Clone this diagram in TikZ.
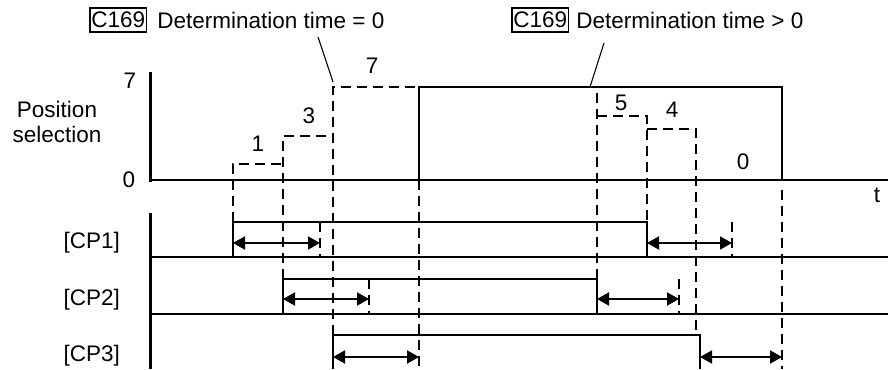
\documentclass[tikz,border=0pt]{standalone}
\usepackage{fontspec}
\setmainfont{Liberation Sans}
\usetikzlibrary{arrows.meta, positioning}

\begin{document}
\begin{tikzpicture}[
  x=1pt, y=-1pt,
  >={Triangle[length=12pt,width=13pt]},
  line width=2pt,
  axis/.style  = {line width=3pt},
  guide/.style = {line width=2.2pt, dash pattern=on 10pt off 6pt},
  lbl/.style   = {font=\fontsize{22.5}{25}\selectfont, inner sep=0pt},
  tag/.style   = {draw, line width=1.6pt, inner xsep=1.5pt, inner ysep=4pt,
                  font=\fontsize{22.5}{25}\selectfont},
  pointer/.style = {line width=1.1pt},
]
  \useasboundingbox (0,0) rectangle (890,369);

  % labels on the left
  \node[lbl, align=center] (possel) at (57,122) {Position\\selection};
  \node[lbl] (ysev)  at (130,81)  {7};
  \node[lbl] (yzero) at (129,180) {0};
  \node[lbl, anchor=east] (cpa) at (121,243) {[CP1]};
  \node[lbl, anchor=east] (cpb) at (121,300) {[CP2]};
  \node[lbl, anchor=east] (cpc) at (121,356) {[CP3]};
  \node[lbl] (tlbl) at (877,195) {t};

  % heading notes
  \node[tag, anchor=west]  (cza)  at (89,20)  {C169};
  \node[lbl, right=9pt of cza] (dza) {Determination time = 0};
  \node[tag, anchor=west]  (czb)  at (511,20) {C169};
  \node[lbl, right=6pt of czb] (dzb) {Determination time > 0};
  \coordinate (qa) at (318,37);  \coordinate (pa) at (333,82);
  \coordinate (qb) at (604,43);  \coordinate (pb) at (590,87);
  \draw[pointer] (qa) -- (pa);
  \draw[pointer] (qb) -- (pb);

  % step values
  \node[lbl] (vone)   at (258,144) {1};
  \node[lbl] (vthree) at (309,116) {3};
  \node[lbl] (vseven) at (372,66)  {7};
  \node[lbl] (vfive)  at (621,103) {5};
  \node[lbl] (vfour)  at (672,110) {4};
  \node[lbl] (vzero)  at (743,162) {0};

  % axes and base lines
  \draw[axis] (150,72) -- (150,181.5);
  \draw[axis] (150,213) -- (150,369);
  \draw (150,180) -- (888,180);
  \draw (150,257) -- (888,257);
  \draw (150,314) -- (888,314);

  % position selection
  \draw (419,180) -- (419,87) -- (782,87) -- (782,180);
  \draw[guide] (233,222) -- (233,164) -- (283,164);
  \draw[guide] (283,279) -- (283,136) -- (333,136);
  \draw[guide] (333,335) -- (333,87) -- (419,87);
  \draw[guide] (597,279) -- (597,87);
  \draw[guide] (597,116) -- (647,116) -- (647,222);
  \draw[guide] (647,129) -- (696,129) -- (696,335);
  \draw[guide] (419,180) -- (419,369);
  \draw[guide] (782,190) -- (782,369);

  % CP signals
  \draw (233,257) -- (233,222) -- (647,222) -- (647,257);
  \draw (283,314) -- (283,279) -- (597,279) -- (597,314);
  \draw (333,369) -- (333,335) -- (700,335) -- (700,369);

  % determination time marks
  \draw[guide] (320,222) -- (320,257);
  \draw[guide] (732,222) -- (732,257);
  \draw[guide] (369,279) -- (369,314);
  \draw[guide] (679,279) -- (679,314);

  \draw[<->] (233,243) -- (320,243);
  \draw[<->] (647,243) -- (732,243);
  \draw[<->] (283,299) -- (369,299);
  \draw[<->] (597,299) -- (679,299);
  \draw[<->] (333,357) -- (419,357);
  \draw[<->] (700,357) -- (782,357);
\end{tikzpicture}
\end{document}
